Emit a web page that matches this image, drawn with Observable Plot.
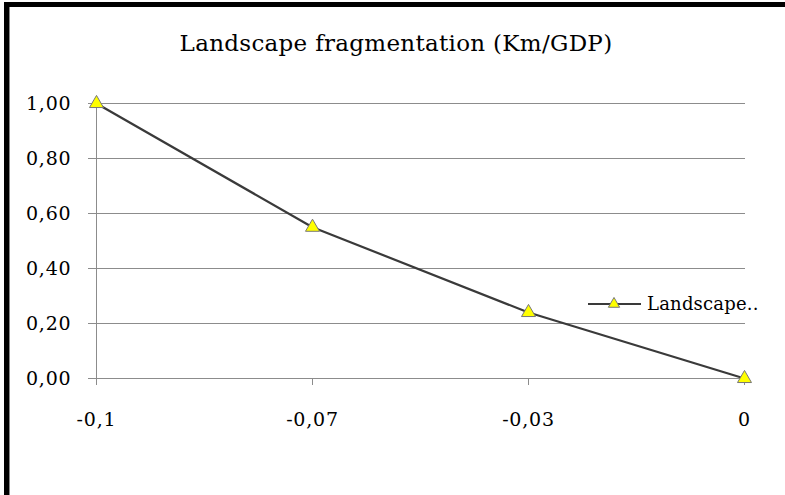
<!DOCTYPE html>
<html>
<head>
<meta charset="utf-8">
<script src="https://cdn.jsdelivr.net/npm/d3@7"></script>
<script src="https://cdn.jsdelivr.net/npm/@observablehq/plot@0.6"></script>
<style>
  html, body { margin: 0; padding: 0; background: #fff; }
  #wrap { position: relative; width: 785px; height: 495px; overflow: hidden; background: #fff; }
  #wrap svg.plot text { letter-spacing: 0.8px; }
  .bar { position: absolute; background: #000; }
  #title { position: absolute; left: 0; top: 30px; width: 792px; text-align: center;
           font-family: "DejaVu Serif", serif; font-size: 23px; letter-spacing: 0.3px; color: #000; }
  #legend { position: absolute; left: 586px; top: 292px; font-family: "DejaVu Serif", serif;
            font-size: 18px; letter-spacing: 0.2px; color: #000; display: flex; align-items: center; }
  #chart { position: absolute; left: 0; top: 0; }
</style>
</head>
<body>
<div id="wrap">
  <div id="chart"></div>
  <div class="bar" style="left:4px;top:2px;width:781px;height:5px;"></div>
  <div class="bar" style="left:4px;top:2px;width:5px;height:493px;"></div>
  <div class="bar" style="left:9px;top:7px;width:1px;height:488px;background:#888;"></div>
  <div id="title">Landscape fragmentation (Km/GDP)</div>
  <div id="legend"></div>
</div>
<script>
const xLabels = ["-0,1", "-0,07", "-0,03", "0"];
const seriesValues = [1.00, 0.55, 0.24, 0.00];
const yTicks = [0, 0.2, 0.4, 0.6, 0.8, 1.0];
const seriesName = "Landscape..";
const chartTitle = "Landscape fragmentation (Km/GDP)";

const data = xLabels.map((x, i) => ({x, y: seriesValues[i]}));
const fmt = d => d.toFixed(2).replace(".", ",");

const lineColor = "#3a3a3a";
const markerFill = "#ffff00";
const markerStroke = "#777";

document.getElementById("title").textContent = chartTitle;

const plot = Plot.plot({
  width: 785,
  height: 495,
  marginTop: 103,
  marginBottom: 117,
  marginLeft: 95,
  marginRight: 40,
  style: {fontFamily: "DejaVu Serif, serif", fontSize: "19px", color: "#000", background: "transparent"},
  x: {type: "point", domain: xLabels, padding: 0},
  y: {domain: [0, 1]},
  marks: [
    Plot.gridY(yTicks, {stroke: "#8c8c8c", strokeOpacity: 1, strokeWidth: 1}),
    Plot.ruleX([xLabels[0]], {y1: 0, y2: 1, stroke: "#8c8c8c", strokeWidth: 1}),
    Plot.axisY(yTicks, {tickSize: 7, tickPadding: 17, stroke: "#8c8c8c", tickFormat: fmt, fontSize: 19, label: null}),
    Plot.axisX({tickSize: 7, tickPadding: 27, stroke: "#8c8c8c", fontSize: 19, label: null}),
    Plot.line(data, {x: "x", y: "y", stroke: lineColor, strokeWidth: 2.2}),
    Plot.dot(data, {x: "x", y: "y", symbol: "triangle", r: 5.2, fill: markerFill, stroke: markerStroke, strokeWidth: 1})
  ]
});
plot.classList.add("plot");
document.getElementById("chart").appendChild(plot);

// Legend (HTML overlay)
const legend = document.getElementById("legend");
const sw = d3.create("svg").attr("width", 56).attr("height", 22);
sw.append("line").attr("x1", 2).attr("x2", 55).attr("y1", 12).attr("y2", 12)
  .attr("stroke", lineColor).attr("stroke-width", 2.2);
sw.append("path").attr("transform", "translate(28,12)")
  .attr("d", d3.symbol(d3.symbolTriangle, Math.PI * 4.2 * 4.2)())
  .attr("fill", markerFill).attr("stroke", markerStroke);
legend.appendChild(sw.node());
const lt = document.createElement("span");
lt.textContent = seriesName;
lt.style.marginLeft = "5px";
legend.appendChild(lt);
</script>
</body>
</html>
